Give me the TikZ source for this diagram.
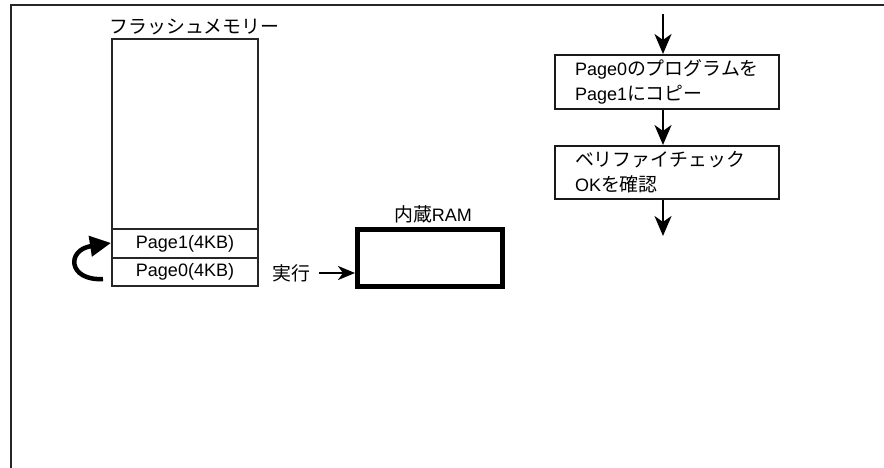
\documentclass[tikz,border=0pt]{standalone}
\usepackage{fontspec}
\setmainfont{Liberation Sans}
\newfontfamily\jp[Scale=1.05]{Noto Sans CJK JP}
\usetikzlibrary{arrows.meta}
\begin{document}
\begin{tikzpicture}[x=1pt,y=-1pt,
  every node/.style={font=\fontsize{18}{25}\selectfont, text=black},
  arr/.style={line width=2.5pt, draw=black, -{Stealth[length=20pt,width=17pt,inset=6pt]}},
  arrs/.style={line width=2.5pt, draw=black, -{Stealth[length=17pt,width=14pt,inset=5pt]}},
  fbox/.style={draw=black!85, line width=1.5pt, minimum width=146pt, inner sep=0pt},
  flow/.style={draw=black!90, line width=2pt, text width=184pt, inner xsep=20pt, inner ysep=0pt, align=left, minimum height=54pt},
]
\useasboundingbox (0,0) rectangle (884,468);
\draw[line width=2.5pt, draw=black!85] (11,468) -- (11,5) -- (884,5);

% flash memory
\node (fl) at (194.5,27) {\jp フラッシュメモリー};
\node[fbox, minimum height=190pt] (flash) at (185,134) {};
\node[fbox, minimum height=29pt] (p1) at (185,243.5) {Page1(4KB)};
\node[fbox, minimum height=28pt] (p0) at (185,272) {Page0(4KB)};
\coordinate (cs) at (103,279);
\coordinate (ce) at (111,243);
\draw[line width=4.5pt, draw=black, -{Triangle[length=21pt,width=20pt]}] (cs) .. controls (68,281) and (66,250) .. (ce);

% RAM
\node[draw=black, line width=5pt, minimum width=145pt, minimum height=57pt] (ram) at (430,258) {};
\node (ramlbl) at (433,214) {{\jp 内蔵}RAM};
\node (jk) at (291,273) {\jp 実行};
\draw[arrs, shorten <=6pt] (jk.east) -- (jk.east -| ram.west);

% flow
\coordinate (top) at (663,14);
\node[flow] (b1) at (667,82) {Page0{\jp のプログラムを}\\Page1{\jp にコピー}};
\node[flow, minimum height=53pt] (b2) at (667,172.5) {{\jp ベリファイチェック}\\OK{\jp を確認}};
\coordinate (bot) at (663,236);
\draw[arr] (top) -- (top |- b1.north);
\draw[arr] (top |- b1.south) -- (top |- b2.north);
\draw[arr] (top |- b2.south) -- (bot);
\end{tikzpicture}
\end{document}
